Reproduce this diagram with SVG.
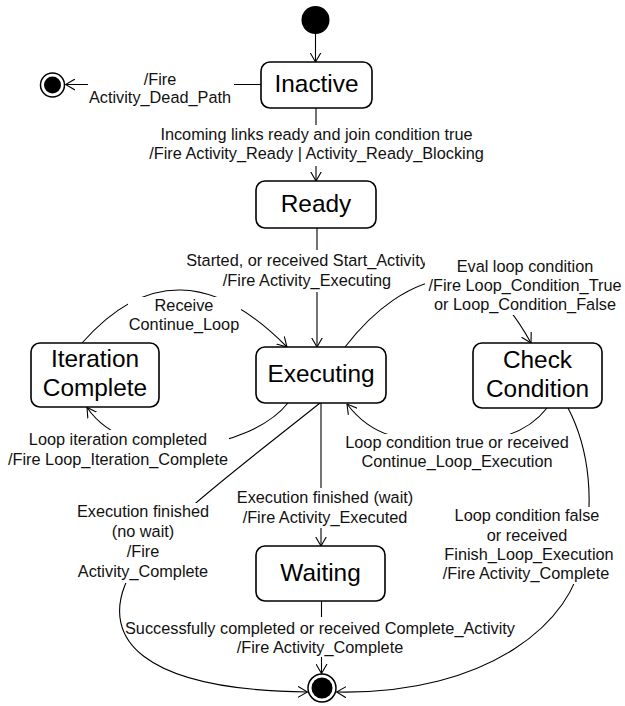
<svg xmlns="http://www.w3.org/2000/svg" width="625" height="706" viewBox="0 0 625 706">
<defs>
<marker id="arr" viewBox="0 0 10 12" refX="9.5" refY="6" markerWidth="10" markerHeight="12" orient="auto" markerUnits="userSpaceOnUse">
<path d="M0,0.5 L9.5,6 L0,11.5" fill="none" stroke="#000" stroke-width="1.1"/>
</marker>
</defs>
<style>
.st rect{fill:#fff;stroke:#000;stroke-width:1.6}
.st text{font-family:"Liberation Sans",Arial,sans-serif;font-size:24.4px;text-anchor:middle;fill:#000}
.ini{fill:#000}
.fo{fill:#fff;stroke:#000;stroke-width:1.5}
.fi{fill:#000}
.c path{fill:none;stroke:#000;stroke-width:1.1;marker-end:url(#arr)}
.lb rect{fill:#fff}
.lb text{font-family:"Liberation Sans",Arial,sans-serif;font-size:16.3px;text-anchor:middle;fill:#111}
</style>
<rect width="625" height="706" fill="#fff"/>
<g id="connectors" class="c">
<path id="e-init" d="M315.5,34 V62"/>
<path id="e-dead" d="M261,84.5 H234 M88,84.5 H65.5"/>
<path id="e-ready" d="M316,108 V125 M316,166 V181"/>
<path id="e-start" d="M317,228 V250 M317,292 V347"/>
<path id="e-continue" d="M82,343 Q177,235 287,347"/>
<path id="e-eval" d="M345,347 C372,312 410,280 455,278 C485,277 510,305 531,343"/>
<path id="e-iter" d="M288,403 C250,450 130,470 87,407.5"/>
<path id="e-true" d="M547,408 C530,430 500,442 460,442 C400,442 372,437 347,404"/>
<path id="e-nowait" d="M320,403 C230,475 140,540 125,585 C105,635 135,690 307.5,692"/>
<path id="e-wait" d="M321,403 V488 M321,528 V546"/>
<path id="e-false" d="M568,408 C590,450 595,505 582,555 C575,620 490,695 336.5,692"/>
<path id="e-done" d="M321.5,601 V617 M321.5,657 V673.5"/>
</g>
<g id="labels" class="lb">
<text x="160" y="85">/Fire</text>
<text x="160" y="103">Activity_Dead_Path</text>
<text x="316.5" y="140">Incoming links ready and join condition true</text>
<text x="316.5" y="159">/Fire Activity_Ready | Activity_Ready_Blocking</text>
<text x="307" y="266">Started, or received Start_Activity</text>
<text x="307" y="286">/Fire Activity_Executing</text>
<rect x="128" y="297" width="113" height="39"/>
<text x="184" y="311">Receive</text>
<text x="184" y="330">Continue_Loop</text>
<rect x="425" y="257" width="200" height="58"/>
<text x="525" y="272">Eval loop condition</text>
<text x="525" y="291">/Fire Loop_Condition_True</text>
<text x="525" y="310">or Loop_Condition_False</text>
<rect x="7" y="430" width="222" height="40"/>
<text x="118" y="445">Loop iteration completed</text>
<text x="118" y="465">/Fire Loop_Iteration_Complete</text>
<rect x="344" y="434" width="226" height="38"/>
<text x="457" y="448">Loop condition true or received</text>
<text x="457" y="467">Continue_Loop_Execution</text>
<text x="325" y="503">Execution finished (wait)</text>
<text x="325" y="523">/Fire Activity_Executed</text>
<rect x="77" y="503" width="132" height="80"/>
<text x="143" y="517">Execution finished</text>
<text x="143" y="537">(no wait)</text>
<text x="143" y="557">/Fire</text>
<text x="143" y="577">Activity_Complete</text>
<rect x="441" y="507" width="175" height="77"/>
<text x="527" y="521">Loop condition false</text>
<text x="527" y="541">or received</text>
<text x="529" y="560">Finish_Loop_Execution</text>
<text x="526" y="579">/Fire Activity_Complete</text>
<text x="320" y="634">Successfully completed or received Complete_Activity</text>
<text x="320" y="653">/Fire Activity_Complete</text>
</g>
<g id="initial"><circle class="ini" cx="315.5" cy="20" r="14"/></g>
<g id="final-dead-path"><circle class="fo" cx="52.5" cy="85" r="12"/><circle class="fi" cx="52.5" cy="85" r="8.5"/></g>
<g id="inactive" class="st"><rect x="261" y="62" width="111" height="46" rx="9"/><text x="316.5" y="92">Inactive</text></g>
<g id="ready" class="st"><rect x="256" y="181" width="120" height="47" rx="9"/><text x="316" y="212">Ready</text></g>
<g id="executing" class="st"><rect x="256" y="347" width="130" height="56" rx="9"/><text x="321" y="382">Executing</text></g>
<g id="iteration-complete" class="st"><rect x="31" y="343" width="128" height="64" rx="9"/><text x="95" y="367">Iteration</text><text x="95" y="396">Complete</text></g>
<g id="check-condition" class="st"><rect x="473" y="343" width="129" height="65" rx="9"/><text x="537.5" y="368">Check</text><text x="537.5" y="397">Condition</text></g>
<g id="waiting" class="st"><rect x="256" y="546" width="129" height="55" rx="9"/><text x="320.5" y="581">Waiting</text></g>
<g id="final"><circle class="fo" cx="322" cy="688" r="14"/><circle class="fi" cx="322" cy="688" r="10.5"/></g>
</svg>
